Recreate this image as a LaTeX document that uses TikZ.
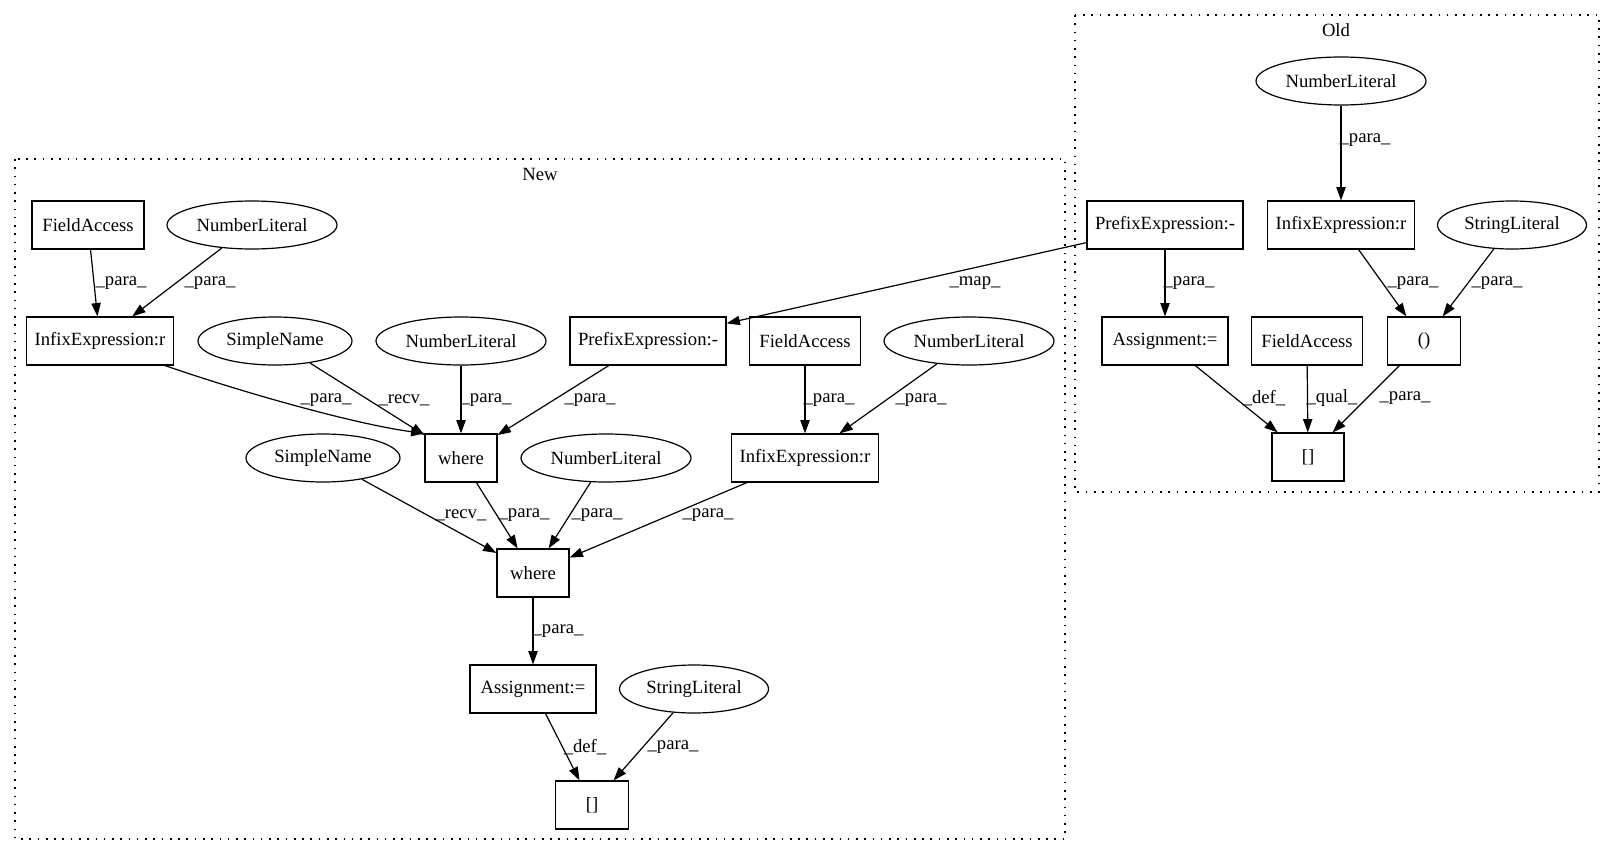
\documentclass[tikz,border=0pt]{standalone}
\usepackage{fontspec}
\setmainfont{Liberation Serif}
\usetikzlibrary{shapes.geometric,arrows.meta}
\begin{document}
\begin{tikzpicture}[x=0.75pt,y=-0.75pt,
  font=\fontsize{14}{16}\selectfont,
  bx/.style={draw,line width=0.9pt,rectangle,inner sep=0pt,minimum height=36pt,minimum width=#1*0.75pt},
  el/.style={draw,line width=0.9pt,ellipse,inner sep=0pt,minimum height=36pt,minimum width=#1*0.75pt},
  ar/.style={line width=0.9pt,-{Triangle[length=10pt,width=7pt]}},
  lbl/.style={inner sep=0pt},
  clus/.style={line width=1pt,dash pattern=on 1.2pt off 5pt}]
\useasboundingbox (0,0) rectangle (1615,856);
% clusters
\draw[clus] (1075,15) rectangle (1599,492);
\node[lbl] (oldlbl) at (1336,30) {Old};
\draw[clus] (15,159) rectangle (1065,839);
\node[lbl] (newlbl) at (540,174) {New};
% New nodes
\node[bx=112] (nfa1) at (88,225) {FieldAccess};
\node[el=170] (nnl1) at (252,225) {NumberLiteral};
\node[bx=147] (nir1) at (100,341) {InfixExpression:r};
\node[el=154] (nsn1) at (275,341) {SimpleName};
\node[el=170] (nnl2) at (461,341) {NumberLiteral};
\node[bx=156] (npe) at (648,341) {PrefixExpression:-};
\node[bx=111] (nfa2) at (805,341) {FieldAccess};
\node[el=170] (nnl3) at (969,341) {NumberLiteral};
\node[bx=72] (nw1) at (461,458) {where};
\node[el=154] (nsn2) at (323,458) {SimpleName};
\node[el=170] (nnl4) at (606,458) {NumberLiteral};
\node[bx=147] (nir2) at (805,458) {InfixExpression:r};
\node[bx=72] (nw2) at (533,573) {where};
\node[bx=126] (nas) at (533,689) {Assignment:=};
\node[el=149] (nsl) at (694,689) {StringLiteral};
\node[bx=73] (nbr) at (592,805) {[]};
% Old nodes
\node[el=170] (onl) at (1341,81) {NumberLiteral};
\node[bx=156] (ope) at (1165,225) {PrefixExpression:-};
\node[bx=147] (oir) at (1341,225) {InfixExpression:r};
\node[el=149] (osl) at (1512,225) {StringLiteral};
\node[bx=126] (oas) at (1165,341) {Assignment:=};
\node[bx=111] (ofa) at (1307,341) {FieldAccess};
\node[bx=73] (opa) at (1424,341) {()};
\node[bx=72] (obr) at (1308,457) {[]};
% New edges
\draw[ar] (nfa1) -- (nir1);
\node[lbl] (l1) at (121,283) {\_para\_};
\draw[ar] (nnl1) -- (nir1);
\node[lbl] (l2) at (210,283) {\_para\_};
\draw[ar] ([xshift=-6.75pt]nir1.south east) .. controls (250,395) and (360,425) .. (nw1.north west);
\node[lbl] (l3) at (326,400) {\_para\_};
\draw[ar] (nsn1) -- (nw1);
\node[lbl] (l4) at (404,400) {\_recv\_};
\draw[ar] (nnl2) -- (nw1);
\node[lbl] (l5) at (486,400) {\_para\_};
\draw[ar] (npe) -- (nw1);
\node[lbl] (l6) at (590,400) {\_para\_};
\draw[ar] (nfa2) -- (nir2);
\node[lbl] (l7) at (829,400) {\_para\_};
\draw[ar] (nnl3) -- (nir2);
\node[lbl] (l8) at (921,400) {\_para\_};
\draw[ar] (ope) -- (npe);
\node[lbl] (l9) at (975,283) {\_map\_};
\draw[ar] (nsn2) -- (nw2);
\node[lbl] (l10) at (461,515) {\_recv\_};
\draw[ar] (nw1) -- (nw2);
\node[lbl] (l11) at (524,515) {\_para\_};
\draw[ar] (nnl4) -- (nw2);
\node[lbl] (l12) at (597,515) {\_para\_};
\draw[ar] (nir2) -- (nw2);
\node[lbl] (l13) at (708,515) {\_para\_};
\draw[ar] (nw2) -- (nas);
\node[lbl] (l14) at (558,631) {\_para\_};
\draw[ar] (nas) -- (nbr);
\node[lbl] (l15) at (585,747) {\_def\_};
\draw[ar] (nsl) -- (nbr);
\node[lbl] (l16) at (673,747) {\_para\_};
% Old edges
\draw[ar] (onl) -- (oir);
\node[lbl] (l17) at (1365,140) {\_para\_};
\draw[ar] (ope) -- (oas);
\node[lbl] (l18) at (1189,283) {\_para\_};
\draw[ar] (oir) -- (opa);
\node[lbl] (l19) at (1413,283) {\_para\_};
\draw[ar] (osl) -- (opa);
\node[lbl] (l20) at (1497,283) {\_para\_};
\draw[ar] (oas) -- (obr);
\node[lbl] (l21) at (1264,398) {\_def\_};
\draw[ar] (ofa) -- (obr);
\node[lbl] (l22) at (1332,398) {\_qual\_};
\draw[ar] (opa) -- (obr);
\node[lbl] (l23) at (1405,398) {\_para\_};
\end{tikzpicture}
\end{document}
